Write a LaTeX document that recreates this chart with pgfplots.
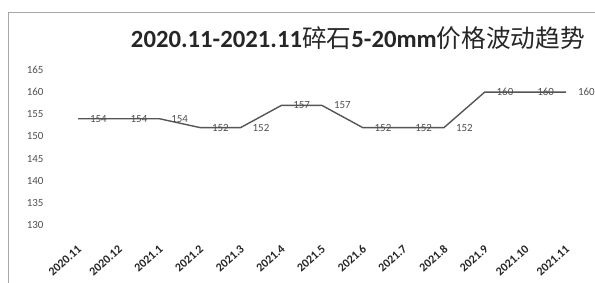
\documentclass[border=0pt]{standalone}
\usepackage{fontspec}
\setmainfont{Carlito}
\newfontfamily\cjk{Noto Sans CJK SC}
\usepackage{pgfplots}
\pgfplotsset{compat=1.18}
\definecolor{linegray}{HTML}{555555}
\definecolor{txtgray}{HTML}{505050}
\begin{document}
\begin{tikzpicture}
\path[use as bounding box] (0,0) rectangle (595bp,283bp);
\draw[gray!70, line width=0.8bp] (8bp,0) -- (8bp,271bp) -- (595bp,271bp);
\node[font=\fontsize{24.8}{28}\selectfont\bfseries, text=black!85, anchor=center] at (358bp,245bp)
  {2020.11-2021.11{\cjk\mdseries 碎石}5-20mm{\cjk\mdseries 价格波动趋势}};
\begin{axis}[
  at={(78bp,58bp)}, anchor=south west,
  scale only axis, width=488bp, height=155bp,
  xmin=0, xmax=12, ymin=130, ymax=165,
  ytick={130,135,...,165},
  xtick={0,...,12},
  xticklabels={2020.11,2020.12,2021.1,2021.2,2021.3,2021.4,2021.5,2021.6,2021.7,2021.8,2021.9,2021.10,2021.11},
  axis line style={draw=none},
  tick style={draw=none},
  /pgf/number format/assume math mode=true,
  yticklabel style={font=\fontsize{11}{12}\selectfont, text=txtgray, anchor=east, xshift=-31bp},
  xticklabel style={yshift=-19bp, xshift=-1bp, font=\fontsize{12}{13}\selectfont\bfseries, text=black!85, rotate=42, anchor=north east, inner sep=0pt},
  clip=false,
]
\addplot[linegray, line width=1.4bp,
  nodes near coords,
  every node near coord/.append style={anchor=west, xshift=8bp, font=\fontsize{11}{12}\selectfont, text=txtgray}]
  coordinates {(0,154) (1,154) (2,154) (3,152) (4,152) (5,157) (6,157) (7,152) (8,152) (9,152) (10,160) (11,160) (12,160)};
\end{axis}
\end{tikzpicture}
\end{document}
